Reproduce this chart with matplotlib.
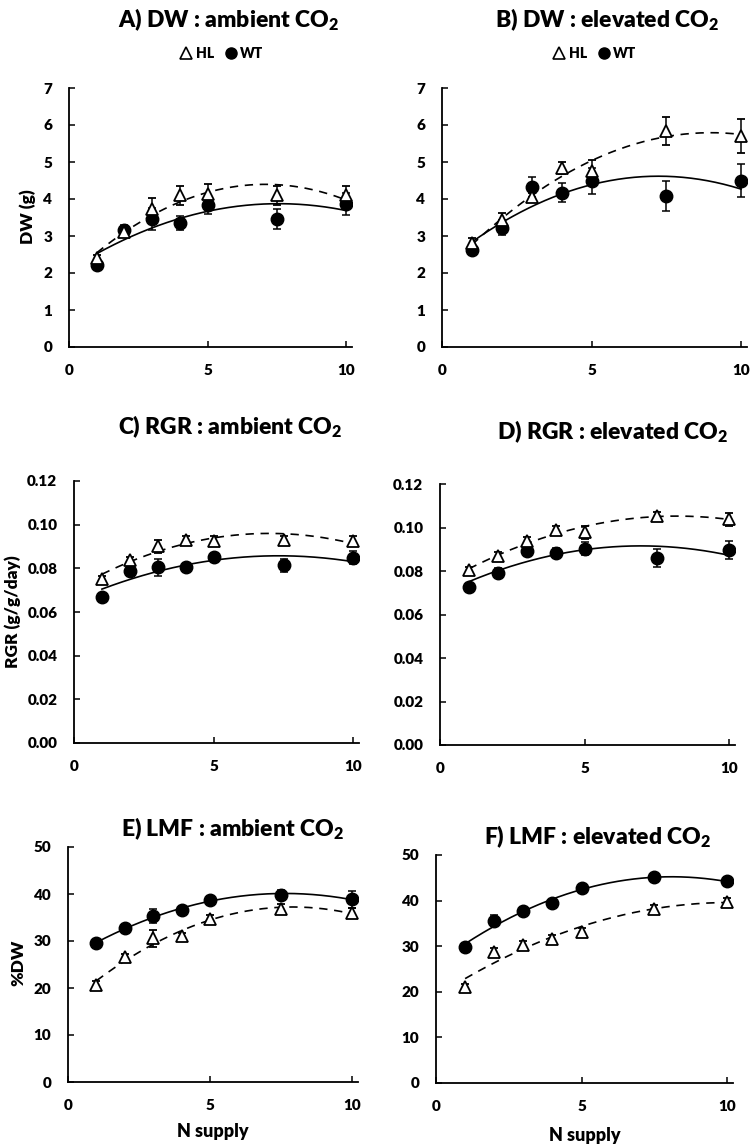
import numpy as np
import matplotlib
matplotlib.use("Agg")
import matplotlib.pyplot as plt
from matplotlib.lines import Line2D
from matplotlib.ticker import FormatStrFormatter

plt.rcParams['font.family'] = ['Lato', 'DejaVu Sans']
plt.rcParams['font.weight'] = 'heavy'
plt.rcParams['mathtext.fontset'] = 'custom'
plt.rcParams['mathtext.rm'] = 'Lato:heavy'
plt.rcParams['mathtext.bf'] = 'Lato:heavy'

# N supply levels
n_supply = [1, 2, 3, 4, 5, 7.5, 10]

# A) DW ambient
dw_amb_hl = [2.40, 3.10, 3.74, 4.10, 4.13, 4.10, 4.10]
dw_amb_hl_err = [0.10, 0.10, 0.30, 0.25, 0.27, 0.25, 0.25]
dw_amb_wt = [2.22, 3.15, 3.45, 3.35, 3.85, 3.47, 3.86]
dw_amb_wt_err = [0.10, 0.15, 0.30, 0.18, 0.25, 0.27, 0.30]

# B) DW elevated
dw_elv_hl = [2.80, 3.42, 4.05, 4.84, 4.76, 5.83, 5.70]
dw_elv_hl_err = [0.15, 0.20, 0.10, 0.17, 0.30, 0.38, 0.45]
dw_elv_wt = [2.63, 3.22, 4.32, 4.17, 4.48, 4.08, 4.50]
dw_elv_wt_err = [0.10, 0.20, 0.27, 0.25, 0.35, 0.40, 0.45]

# C) RGR ambient
rgr_amb_hl = [0.0751, 0.0838, 0.0901, 0.0930, 0.0926, 0.0932, 0.0926]
rgr_amb_hl_err = [0.0015, 0.0015, 0.0030, 0.0020, 0.0020, 0.0015, 0.0020]
rgr_amb_wt = [0.0667, 0.0786, 0.0805, 0.0808, 0.0850, 0.0815, 0.0849]
rgr_amb_wt_err = [0.0015, 0.0015, 0.0040, 0.0015, 0.0020, 0.0030, 0.0030]

# D) RGR elevated
rgr_elv_hl = [0.0805, 0.0871, 0.0936, 0.0990, 0.0979, 0.1053, 0.1038]
rgr_elv_hl_err = [0.0015, 0.0015, 0.0020, 0.0015, 0.0030, 0.0020, 0.0030]
rgr_elv_wt = [0.0727, 0.0792, 0.0894, 0.0884, 0.0902, 0.0860, 0.0896]
rgr_elv_wt_err = [0.0015, 0.0020, 0.0025, 0.0020, 0.0030, 0.0040, 0.0040]

# E) LMF ambient
lmf_amb_hl = [20.7, 26.5, 30.6, 31.0, 34.7, 36.8, 36.0]
lmf_amb_hl_err = [0.8, 0.8, 1.8, 0.8, 0.8, 1.0, 1.0]
lmf_amb_wt = [29.5, 32.7, 35.4, 36.6, 38.8, 39.8, 38.9]
lmf_amb_wt_err = [0.8, 0.8, 1.5, 0.8, 0.8, 1.0, 1.8]

# F) LMF elevated
lmf_elv_hl = [21.0, 28.8, 30.3, 31.6, 33.2, 38.2, 39.8]
lmf_elv_hl_err = [0.8, 0.8, 0.8, 0.8, 0.8, 0.8, 0.8]
lmf_elv_wt = [29.8, 35.6, 37.8, 39.4, 42.7, 45.1, 44.2]
lmf_elv_wt_err = [1.0, 1.2, 0.8, 0.8, 0.8, 0.8, 1.0]

W, H = 750, 1144
fig = plt.figure(figsize=(W / 100, H / 100), dpi=100)


def px_axes(left, right, top, bottom):
    return fig.add_axes([left / W, 1 - bottom / H, (right - left) / W, (bottom - top) / H])


def draw_panel(ax, hl, hl_err, wt, wt_err, ylim, yticks, fmt=None):
    x = np.array(n_supply)
    xs = np.linspace(1, 10, 200)
    # quadratic trendlines from the data
    ax.plot(xs, np.polyval(np.polyfit(x, hl, 2), xs), color='black', lw=1.2,
            dashes=(5, 4), zorder=2)
    ax.plot(xs, np.polyval(np.polyfit(x, wt, 2), xs), color='black', lw=1.2, zorder=2)
    ax.errorbar(x, wt, yerr=wt_err, fmt='o', color='black', ms=9, capsize=3,
                elinewidth=1.1, capthick=1.1, zorder=3)
    ax.errorbar(x, hl, yerr=hl_err, fmt='^', mfc='white', mec='black', mew=1.3,
                ecolor='black', ms=8, capsize=3, elinewidth=1.1, capthick=1.1, zorder=4)
    ax.set_xlim(0, 10.2)
    ax.set_ylim(*ylim)
    ax.set_xticks([0, 5, 10])
    ax.set_yticks(yticks)
    if fmt:
        ax.yaxis.set_major_formatter(FormatStrFormatter(fmt))
    for s in ['top', 'right']:
        ax.spines[s].set_visible(False)
    for s in ['left', 'bottom']:
        ax.spines[s].set_linewidth(1.3)
    ax.tick_params(direction='in', length=4, width=1.1, labelsize=11, pad=12)
    for lab in ax.get_xticklabels() + ax.get_yticklabels():
        lab.set_fontweight('heavy')


axA = px_axes(69, 352, 88, 347)
axB = px_axes(442, 747, 88, 347)
axC = px_axes(74, 359, 481, 743)
axD = px_axes(440, 735, 484, 745)
axE = px_axes(68, 358, 847, 1082)
axF = px_axes(436, 733, 855, 1083)

draw_panel(axA, dw_amb_hl, dw_amb_hl_err, dw_amb_wt, dw_amb_wt_err, (0, 7), range(0, 8))
draw_panel(axB, dw_elv_hl, dw_elv_hl_err, dw_elv_wt, dw_elv_wt_err, (0, 7), range(0, 8))
draw_panel(axC, rgr_amb_hl, rgr_amb_hl_err, rgr_amb_wt, rgr_amb_wt_err, (0, 0.12),
           np.arange(0, 0.121, 0.02), '%.2f')
draw_panel(axD, rgr_elv_hl, rgr_elv_hl_err, rgr_elv_wt, rgr_elv_wt_err, (0, 0.12),
           np.arange(0, 0.121, 0.02), '%.2f')
draw_panel(axE, lmf_amb_hl, lmf_amb_hl_err, lmf_amb_wt, lmf_amb_wt_err, (0, 50), range(0, 51, 10))
draw_panel(axF, lmf_elv_hl, lmf_elv_hl_err, lmf_elv_wt, lmf_elv_wt_err, (0, 50), range(0, 51, 10))

# titles
titles = [
    ('A) DW : ambient CO$_{2}$', 229, 20),
    ('B) DW : elevated CO$_{2}$', 607, 20),
    ('C) RGR : ambient CO$_{2}$', 230, 427),
    ('D) RGR : elevated CO$_{2}$', 613, 432),
    ('E) LMF : ambient CO$_{2}$', 232, 829),
    ('F) LMF : elevated CO$_{2}$', 598, 837),
]
for t, x, y in titles:
    fig.text(x / W, 1 - y / H, t, ha='center', va='center', fontsize=16.5, fontweight='heavy')

# y labels
fig.text(28 / W, 1 - 217 / H, 'DW (g)', rotation=90, ha='center', va='center',
         fontsize=12.5, fontweight='heavy')
fig.text(13 / W, 1 - 612 / H, 'RGR (g/g/day)', rotation=90, ha='center', va='center',
         fontsize=12.5, fontweight='heavy')
fig.text(18 / W, 1 - 963 / H, '%DW', rotation=90, ha='center', va='center',
         fontsize=12.5, fontweight='heavy')

# x labels
fig.text(213 / W, 1 - 1132 / H, 'N supply', ha='center', va='center', fontsize=13, fontweight='heavy')
fig.text(585 / W, 1 - 1135 / H, 'N supply', ha='center', va='center', fontsize=13, fontweight='heavy')

# legends
handles = [
    Line2D([], [], ls='none', marker='^', mfc='white', mec='black', mew=1.2, ms=8, label='HL'),
    Line2D([], [], ls='none', marker='o', color='black', ms=8, label='WT'),
]
for cx in (222, 595):
    fig.legend(handles=handles, loc='center', bbox_to_anchor=(cx / W, 1 - 53 / H), ncol=2,
               frameon=False, handlelength=0.8, handletextpad=0.3, columnspacing=0.8,
               prop={'weight': 'heavy', 'size': 10})

fig.savefig('out.png', dpi=100)
